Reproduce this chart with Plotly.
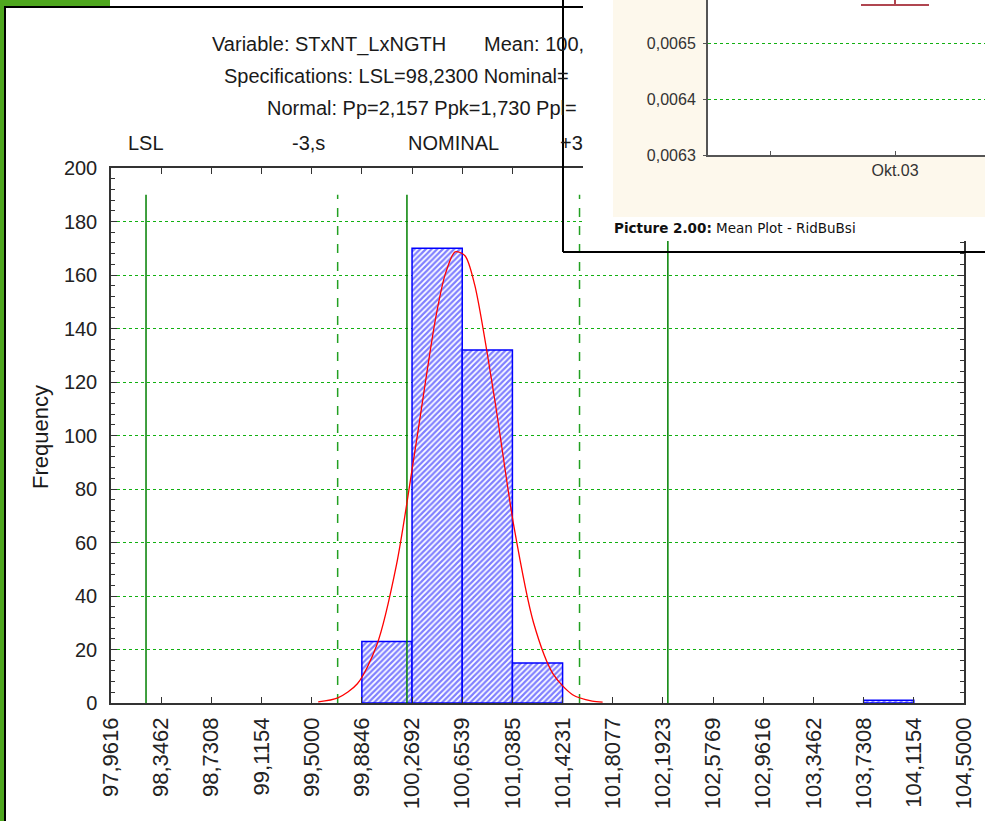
import plotly.graph_objects as go

# ---------------- data ----------------
x_tick_labels = ["97,9616", "98,3462", "98,7308", "99,1154", "99,5000", "99,8846",
                 "100,2692", "100,6539", "101,0385", "101,4231", "101,8077", "102,1923",
                 "102,5769", "102,9616", "103,3462", "103,7308", "104,1154", "104,5000"]
x_tick_values = [97.9616, 98.3462, 98.7308, 99.1154, 99.5000, 99.8846,
                 100.2692, 100.6539, 101.0385, 101.4231, 101.8077, 102.1923,
                 102.5769, 102.9616, 103.3462, 103.7308, 104.1154, 104.5000]

bin_left = [99.8846, 100.2692, 100.6539, 101.0385, 103.7308]
bin_right = [100.2692, 100.6539, 101.0385, 101.4231, 104.1154]
counts = [23, 170, 132, 15, 1]

curve_x = [99.55, 99.70, 99.85, 100.00, 100.15, 100.30, 100.45, 100.525, 100.60,
           100.675, 100.75, 100.90, 101.05, 101.20, 101.35, 101.50, 101.65, 101.73]
curve_y = [0.4, 1.9, 7.2, 21.8, 51.7, 97.0, 143.9, 160.5, 168.7,
           167.2, 156.2, 114.3, 66.0, 30.1, 10.9, 3.1, 0.7, 0.3]

spec_names = ["LSL", "-3,s", "NOMINAL", "+3,s", "USL"]
spec_values = [98.23, 99.699, 100.23, 101.553, 102.23]
spec_dashed = [False, True, False, True, False]
spec_top = 190

header_lines = ["Variable: STxNT_LxNGTH", "Mean: 100,",
                "Specifications: LSL=98,2300 Nominal=",
                "Normal: Pp=2,157 Ppk=1,730 Ppl="]

inset_categories = ["", "Okt.03"]
inset_cat_pos = [-0.5, 0]
inset_y_ticks = [0.0063, 0.0064, 0.0065]
inset_y_labels = ["0,0063", "0,0064", "0,0065"]
inset_mean = [0.00668]
inset_low = [0.00657]

# ---------------- geometry helpers (pixel -> paper) ----------------
W, H = 985, 821
ML, MB = 111, 118
PW, PH = W - ML, H - MB  # paper size in px (paper spans x 111..985, y 0..703)


def px(x):
    return (x - ML) / PW


def py(y):
    return (PH - y) / PH


FONT = "Liberation Sans, Arial, sans-serif"
GREEN_GRID = "#12b012"

fig = go.Figure()

mids = [(a + b) / 2 for a, b in zip(bin_left, bin_right)]
widths = [b - a for a, b in zip(bin_left, bin_right)]
fig.add_trace(go.Bar(
    x=mids, y=counts, width=widths,
    marker=dict(color="white", line=dict(color="#0000ff", width=1.5),
                pattern=dict(shape="/", fgcolor="#0000ff", bgcolor="white",
                             size=4, solidity=0.55)),
    xaxis="x", yaxis="y", showlegend=False, hoverinfo="skip"))

for name, v, dashed in zip(spec_names, spec_values, spec_dashed):
    fig.add_trace(go.Scatter(
        x=[v, v], y=[0, spec_top], mode="lines",
        line=dict(color="#22a022" if dashed else "#008000", width=1.5,
                  dash="dash" if dashed else "solid"),
        xaxis="x", yaxis="y", showlegend=False, hoverinfo="skip"))

fig.add_trace(go.Scatter(
    x=curve_x, y=curve_y, mode="lines",
    line=dict(color="#ff0000", width=1.3, shape="spline", smoothing=0.8),
    xaxis="x", yaxis="y", showlegend=False, hoverinfo="skip"))

# cover subplot (background of the overlapping picture)
fig.add_trace(go.Scatter(x=[], y=[], xaxis="x2", yaxis="y2",
                         showlegend=False, hoverinfo="skip"))

# inset mean plot
fig.add_trace(go.Scatter(
    x=[inset_cat_pos[1]], y=inset_mean, mode="markers",
    marker=dict(size=6, color="#b04650"),
    error_y=dict(type="data", symmetric=False, array=[0],
                 arrayminus=[m - l for m, l in zip(inset_mean, inset_low)],
                 color="#b04650", thickness=2, width=34),
    xaxis="x3", yaxis="y3", showlegend=False, hoverinfo="skip"))

x_dom_end = px(964)
y_dom_end = py(168)

fig.update_layout(
    width=W, height=H,
    margin=dict(l=ML, r=0, t=0, b=MB, pad=0, autoexpand=False),
    paper_bgcolor="white", plot_bgcolor="white",
    separators=", ",
    hovermode=False,
    xaxis=dict(domain=[0, x_dom_end], anchor="y", range=[97.9616, 104.5], automargin=False,
               tickmode="array", tickvals=x_tick_values, ticktext=x_tick_labels,
               tickangle=-90, ticks="inside", ticklen=6, tickcolor="#333",
               showline=True, linecolor="#333", linewidth=1.5, mirror="ticks",
               showgrid=False, zeroline=False, ticklabelstandoff=4,
               tickfont=dict(family=FONT, size=22, color="#222")),
    yaxis=dict(domain=[0, y_dom_end], anchor="x", range=[0, 200], automargin=False,
               tickmode="linear", tick0=0, dtick=20,
               ticks="inside", ticklen=6, tickcolor="#333",
               minor=dict(dtick=4, ticks="inside", ticklen=4, tickcolor="#333", showgrid=False),
               showline=True, linecolor="#333", linewidth=1.5, mirror="ticks",
               showgrid=True, gridcolor=GREEN_GRID, griddash="dot", gridwidth=1,
               zeroline=False, ticklabelstandoff=8,
               tickfont=dict(family=FONT, size=20, color="#222")),
    xaxis2=dict(domain=[px(583), 1], anchor="y2", range=[0, 1], visible=False, automargin=False),
    yaxis2=dict(domain=[py(241), 1], anchor="x2", range=[0, 1], visible=False, automargin=False),
    xaxis3=dict(domain=[px(708), 1], anchor="y3", range=[-0.748, 0.36], automargin=False,
                tickmode="array", tickvals=inset_cat_pos, ticktext=inset_categories,
                ticks="inside", ticklen=4, tickcolor="#555",
                showline=True, linecolor="#555", linewidth=2, showgrid=False,
                zeroline=False,
                tickfont=dict(family=FONT, size=16, color="#333")),
    yaxis3=dict(domain=[py(155), 1], anchor="x3", range=[0.0063, 0.006579], automargin=False,
                tickmode="array", tickvals=inset_y_ticks, ticktext=inset_y_labels,
                ticks="outside", ticklen=3, tickcolor="#555",
                showline=True, linecolor="#555", linewidth=2,
                showgrid=True, gridcolor=GREEN_GRID, griddash="dot", gridwidth=1,
                zeroline=False, ticklabelstandoff=4,
                tickfont=dict(family=FONT, size=16, color="#333")),
)

shapes = [
    # cream panel + white plot area of the overlapping picture
    dict(type="rect", xref="x2", yref="y2", layer="below",
         x0=(613 - 583) / 402, x1=1, y0=(241 - 217) / 241, y1=1,
         fillcolor="#fdf8ec", line=dict(width=0)),
    dict(type="rect", xref="x2", yref="y2", layer="below",
         x0=(708 - 583) / 402, x1=1, y0=(241 - 155) / 241, y1=1,
         fillcolor="white", line=dict(width=0)),
    # green window chrome
    dict(type="rect", xref="paper", yref="paper", layer="above",
         x0=px(0), x1=px(4), y0=py(H), y1=py(0), fillcolor="#4fa71f", line=dict(width=0)),
    dict(type="rect", xref="paper", yref="paper", layer="above",
         x0=px(0), x1=px(110), y0=py(6), y1=py(0), fillcolor="#4fa71f", line=dict(width=0)),
    # black frame of the main picture
    dict(type="line", xref="paper", yref="paper", layer="above",
         x0=px(5), x1=px(5), y0=py(H), y1=py(7), line=dict(color="black", width=2)),
    dict(type="line", xref="paper", yref="paper", layer="above",
         x0=px(4), x1=px(583), y0=py(7), y1=py(7), line=dict(color="black", width=2)),
    # border of the overlapping picture
    dict(type="line", xref="paper", yref="paper", layer="above",
         x0=px(563), x1=px(563), y0=py(252), y1=1, line=dict(color="black", width=2)),
    dict(type="line", xref="paper", yref="paper", layer="above",
         x0=px(563), x1=1, y0=py(252), y1=py(252), line=dict(color="black", width=2)),
]
fig.update_layout(shapes=shapes)

hdr_font = dict(family=FONT, size=20, color="#1a1a1a")
ann = [
    dict(text=header_lines[0], x=px(210), y=py(44), xanchor="left"),
    dict(text=header_lines[1], x=px(482), y=py(44), xanchor="left"),
    dict(text=header_lines[2], x=px(222), y=py(76), xanchor="left"),
    dict(text=header_lines[3], x=px(265), y=py(108), xanchor="left"),
    dict(text=spec_names[0], x=px(146), y=py(143), xanchor="center"),
    dict(text=spec_names[1], x=px(308), y=py(143), xanchor="center"),
    dict(text=spec_names[2], x=px(453), y=py(143), xanchor="center"),
    dict(text=spec_names[3][:2], x=px(558), y=py(143), xanchor="left"),
]
annotations = []
for a in ann:
    a.update(xref="paper", yref="paper", yanchor="middle", showarrow=False, font=hdr_font)
    annotations.append(a)
annotations.append(dict(text="Frequency", x=px(40), y=py(437), xref="paper", yref="paper",
                        textangle=-90, showarrow=False, xanchor="center", yanchor="middle",
                        font=dict(family=FONT, size=22, color="#1a1a1a")))
annotations.append(dict(text="<b>Picture 2.00:</b> Mean Plot - RidBuBsi",
                        x=px(612), y=py(228), xref="paper", yref="paper",
                        xanchor="left", yanchor="middle", showarrow=False,
                        font=dict(family="DejaVu Sans, Verdana, sans-serif", size=13.5, color="#111")))
fig.update_layout(annotations=annotations)

fig.write_html(
    "out.html", config=dict(displayModeBar=False),
    post_script="document.body.style.margin='0';document.body.style.overflow='hidden';")
